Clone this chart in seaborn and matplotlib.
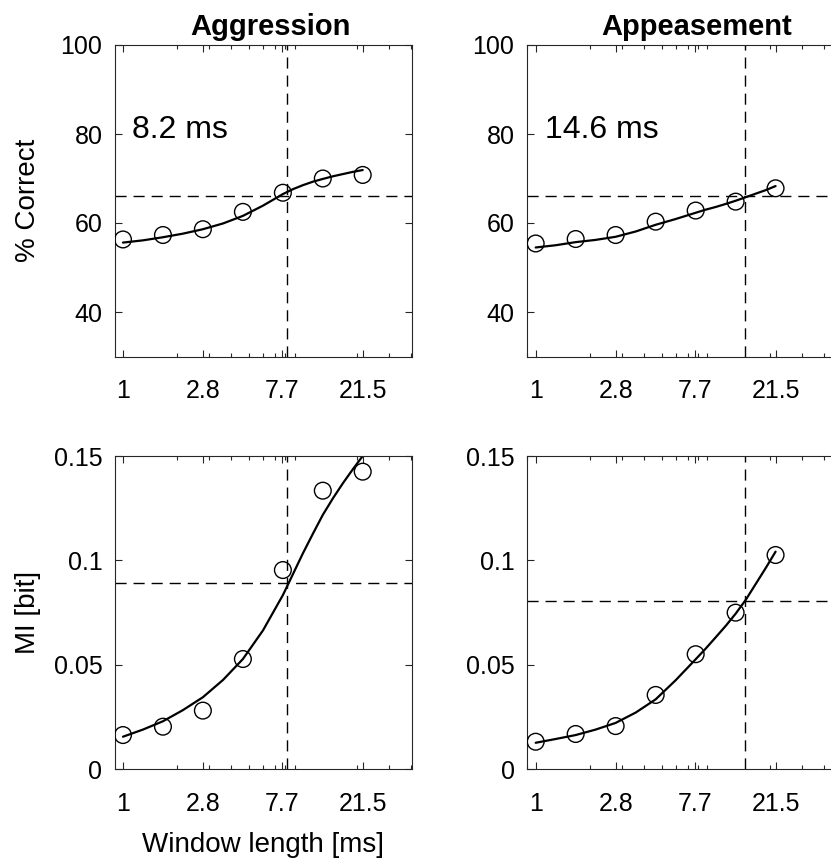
import matplotlib
matplotlib.use('Agg')
import matplotlib.pyplot as plt
import matplotlib.ticker as mticker
import numpy as np
import pandas as pd
import seaborn as sns

# window lengths (ms) of the measured points
win_len = [1.0, 1.668, 2.78, 4.64, 7.74, 12.9, 21.5]
fit_x = [1.0, 1.29, 1.668, 2.15, 2.78, 3.6, 4.64, 6.0, 7.74, 8.8, 10.0, 11.4, 12.9, 14.7, 16.7, 19.0, 21.5]

# % correct
agg_pc = [56.3, 57.3, 58.6, 62.5, 66.8, 70.0, 70.8]
app_pc = [55.4, 56.4, 57.3, 60.3, 62.8, 64.8, 67.8]
agg_pc_fit = [55.6, 56.1, 56.8, 57.6, 58.6, 59.9, 61.6, 63.9, 66.5, 67.6, 68.5,
              69.3, 69.9, 70.5, 71.0, 71.5, 71.9]
app_pc_fit = [54.5, 55.0, 55.7, 56.2, 56.9, 58.1, 59.6, 60.9, 62.3, 63.0, 63.6,
              64.3, 65.0, 65.8, 66.6, 67.4, 68.3]

# mutual information (bit)
agg_mi = [0.0164, 0.0204, 0.0281, 0.0528, 0.0954, 0.1334, 0.1425]
app_mi = [0.0132, 0.0169, 0.0207, 0.0356, 0.0551, 0.0750, 0.1026]
agg_mi_fit = [0.0156, 0.0190, 0.0230, 0.0283, 0.0345, 0.0428, 0.0528, 0.0665,
              0.0834, 0.0934, 0.1034, 0.1130, 0.1218, 0.1298, 0.1370, 0.1438, 0.1500]
app_mi_fit = [0.0127, 0.0145, 0.0164, 0.0190, 0.0222, 0.0272, 0.0335, 0.0427,
              0.0527, 0.0578, 0.0632, 0.0688, 0.0745, 0.0812, 0.0888, 0.0965, 0.1042]

# thresholds
thr_x = [8.2, 14.6]
thr_pc = [66.1, 66.1]
thr_mi = [0.0893, 0.0806]

titles = ['Aggression', 'Appeasement']
xticks = [1, 2.8, 7.7, 21.5]
xtick_labels = ['1', '2.8', '7.7', '21.5']

sns.set_style('ticks')
plt.rcParams['font.family'] = ['Liberation Sans', 'DejaVu Sans']
plt.rcParams['axes.linewidth'] = 0.8
plt.rcParams['text.color'] = 'black'
plt.rcParams['axes.labelcolor'] = 'black'
plt.rcParams['xtick.labelcolor'] = 'black'
plt.rcParams['ytick.labelcolor'] = 'black'

W, H = 831, 858
fig = plt.figure(figsize=(W / 100, H / 100), dpi=100)

def px_axes(left, top, right, bottom):
    return fig.add_axes([left / W, 1 - bottom / H, (right - left) / W, (bottom - top) / H])

axes = [[px_axes(115, 45, 412, 356.5), px_axes(527, 45, 850, 356.5)],
        [px_axes(115, 456, 412, 769.3), px_axes(527, 456, 850, 769.3)]]
xlims = [(0.903, 40.4), (0.895, 55.7)]

spine_col = '#262626'

def style(ax, col, ylim, yticks, yticklabels):
    ax.set_xscale('log')
    ax.set_xlim(*xlims[col])
    ax.set_ylim(*ylim)
    ax.xaxis.set_major_locator(mticker.FixedLocator(xticks))
    ax.xaxis.set_major_formatter(mticker.FixedFormatter(xtick_labels))
    ax.xaxis.set_minor_locator(mticker.LogLocator(base=10, subs=np.arange(2, 10)))
    ax.xaxis.set_minor_formatter(mticker.NullFormatter())
    ax.set_yticks(yticks)
    ax.set_yticklabels(yticklabels)
    ax.tick_params(which='both', direction='in', top=True, right=True,
                   color=spine_col, width=0.8, labelcolor='black')
    ax.tick_params(which='major', length=5)
    ax.tick_params(which='minor', length=3)
    ax.tick_params(axis='x', which='major', labelsize=18, pad=16)
    ax.tick_params(axis='y', which='major', labelsize=18, pad=9)
    for s in ax.spines.values():
        s.set_color(spine_col)
        s.set_visible(True)
    ax.set_xlabel('')
    ax.set_ylabel('')

pc_data = [(agg_pc, agg_pc_fit), (app_pc, app_pc_fit)]
mi_data = [(agg_mi, agg_mi_fit), (app_mi, app_mi_fit)]

for col in range(2):
    for row, (data, thr_y) in enumerate([(pc_data, thr_pc), (mi_data, thr_mi)]):
        ax = axes[row][col]
        pts, fit = data[col]
        ax.axhline(thr_y[col], color='black', lw=1.0, ls=(0, (8, 5)), zorder=1)
        ax.axvline(thr_x[col], color='black', lw=1.0, ls=(0, (8, 5)), zorder=1)
        sns.lineplot(x=fit_x, y=fit, ax=ax, color='black', lw=1.6, zorder=2)
        df = pd.DataFrame({'w': win_len, 'v': pts})
        sns.scatterplot(data=df, x='w', y='v', ax=ax, marker='o', s=145,
                        facecolor='none', edgecolor='black', linewidth=1.0, zorder=3)
        if row == 0:
            style(ax, col, (30, 100), [40, 60, 80, 100], ['40', '60', '80', '100'])
            ax.set_title(titles[col], fontsize=21, fontweight='bold', x=0.525, pad=7,
                         color='black')
            ax.text(1.12, 79, '%.1f ms' % thr_x[col], fontsize=23, ha='left',
                    va='baseline', color='black')
        else:
            style(ax, col, (0, 0.15), [0, 0.05, 0.1, 0.15], ['0', '0.05', '0.1', '0.15'])

axes[0][0].set_ylabel('% Correct', fontsize=20)
axes[0][0].yaxis.set_label_coords(-0.25, 0.5)
axes[1][0].set_ylabel('MI [bit]', fontsize=20)
axes[1][0].yaxis.set_label_coords(-0.25, 0.5)
axes[1][0].set_xlabel('Window length [ms]', fontsize=20)
axes[1][0].xaxis.set_label_coords(0.5, -0.20)

fig.savefig('out.png', dpi=100)
